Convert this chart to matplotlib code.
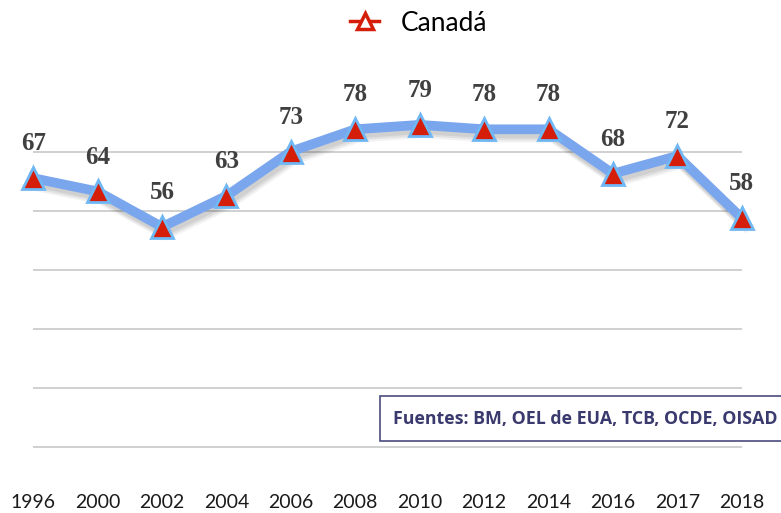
import matplotlib.pyplot as plt
import matplotlib.patheffects as pe
from matplotlib.lines import Line2D

years = ["1996", "2000", "2002", "2004", "2006", "2008", "2010", "2012", "2014", "2016", "2017", "2018"]
valores = [67, 64, 56, 63, 73, 78, 79, 78, 78, 68, 72, 58]
grid_vals = [72.86, 59.57, 46.28, 32.99, 19.70, 6.41]
fuente = "Fuentes: BM, OEL de EUA, TCB, OCDE, OISAD"

fig = plt.figure(figsize=(7.81, 5.13), dpi=100)
ax = fig.add_axes([1 / 781, 0.0729, 773 / 781, 0.849])
x = list(range(len(years)))

# grid lines span from first to last point
ax.hlines(grid_vals, 0, len(years) - 1, color="#c8c8c8", lw=1.2, zorder=1)

# soft shadow: a few faint offset copies
shadow = [pe.SimpleLineShadow(offset=(1.5, -3), shadow_color="black", alpha=0.07),
          pe.SimpleLineShadow(offset=(2, -4.5), shadow_color="black", alpha=0.07),
          pe.SimpleLineShadow(offset=(2.5, -6), shadow_color="black", alpha=0.05),
          pe.Normal()]
ax.plot(x, valores, color="#7aa6ee", lw=7, solid_joinstyle="miter", zorder=2, path_effects=shadow)
ax.plot(x, valores, ls="none", marker="^", ms=15.5, mfc="#d41e0a", mec="#6fb8f5", mew=2,
        zorder=3)

for xi, v in zip(x, valores):
    ax.annotate(str(v), (xi, v), xytext=(0, 16.5), textcoords="offset points", ha="center",
                va="bottom", fontsize=18, fontweight="bold", family="Liberation Serif",
                color="#404040")

ax.set_xlim(-0.5, len(years) - 0.5)
ax.set_ylim(0, 98.1)
ax.set_xticks(x)
ax.set_xticklabels(years, fontsize=14, family="Lato", color="#1a1a1a")
ax.tick_params(axis="x", length=0, pad=13)
ax.set_yticks([])
for s in ax.spines.values():
    s.set_visible(False)

handle = Line2D([], [], color="#d41e0a", lw=2.5, marker="^", ms=11, mfc="white",
                mec="#d41e0a", mew=2.5)
fig.legend([handle], ["Canadá"], loc="center", bbox_to_anchor=(0.536, 0.955), frameon=False,
           prop={"family": "Lato", "size": 19}, handlelength=1.1, handletextpad=0.8)

fig.text(393 / 781, 0.184, fuente, fontsize=12.8, fontweight="bold", family="Open Sans",
         color="#3a3a6e", va="center", ha="left",
         bbox=dict(boxstyle="square,pad=0.75", fc="white", ec="#4a4a80", lw=1.2))

fig.savefig("out.png", dpi=100)
